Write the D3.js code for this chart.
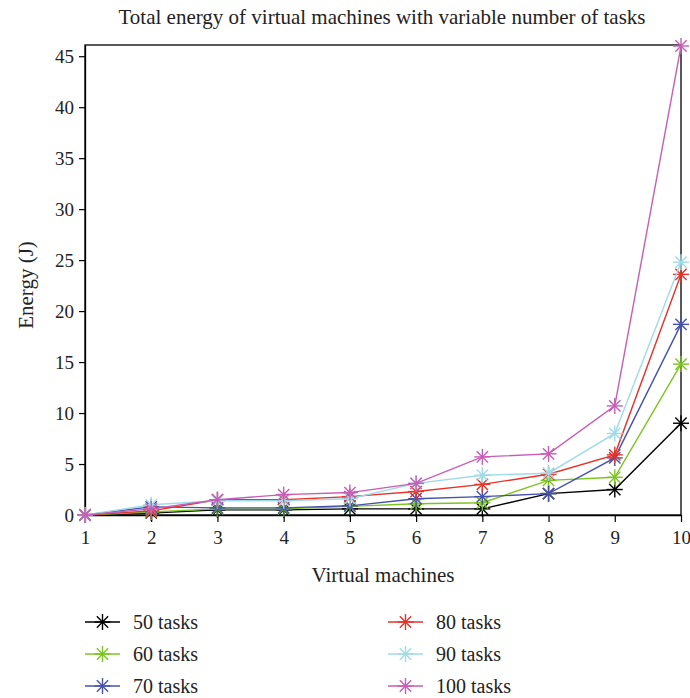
<!DOCTYPE html>
<html><head><meta charset="utf-8">
<script src="https://cdn.jsdelivr.net/npm/d3@7"></script>
<style>body{margin:0;background:#fff}svg{display:block}text{font-family:"Liberation Serif","Times New Roman",serif;fill:#222}</style>
</head><body>
<svg id="c" width="690" height="698"></svg>
<script>
const machines = [1,2,3,4,5,6,7,8,9,10];
const seriesNames = ["50 tasks","60 tasks","70 tasks","80 tasks","90 tasks","100 tasks"];
const seriesColors = ["#000000","#7cc520","#4652ad","#e6332a","#9edbe8","#c75db8"];
const tasks50  = [0, 0.2, 0.5, 0.5, 0.6, 0.6, 0.6, 2.1, 2.5, 9.0];
const tasks60  = [0, 0.3, 0.6, 0.6, 0.85, 1.1, 1.2, 3.4, 3.7, 14.8];
const tasks70  = [0, 0.8, 0.7, 0.7, 0.9, 1.6, 1.8, 2.1, 5.6, 18.7];
const tasks80  = [0, 0.4, 1.5, 1.5, 1.8, 2.3, 3.0, 4.0, 5.9, 23.6];
const tasks90  = [0, 1.0, 1.4, 1.4, 1.6, 3.1, 3.9, 4.1, 8.0, 24.8];
const tasks100 = [0, 0.6, 1.5, 2.0, 2.2, 3.1, 5.7, 6.0, 10.7, 46.0];
const yTicks = [0,5,10,15,20,25,30,35,40,45];
const allSeries = [tasks50,tasks60,tasks70,tasks80,tasks90,tasks100];

const svg = d3.select("#c");
const L=85,R=681,T=45,B=515;
const x = d3.scaleLinear().domain([1,10]).range([L,R]);
const y = d3.scaleLinear().domain([0,46.1]).range([B,T]);

svg.append("rect").attr("x",L).attr("y",T).attr("width",R-L).attr("height",B-T)
  .attr("fill","none").attr("stroke","#000").attr("stroke-width",1.3);

const xa = svg.append("g").attr("transform",`translate(0,${B})`)
  .call(d3.axisBottom(x).tickValues(machines).tickFormat(d3.format("d")).tickSize(7).tickSizeOuter(0));
const ya = svg.append("g").attr("transform",`translate(${L},0)`)
  .call(d3.axisLeft(y).tickValues(yTicks).tickSize(6).tickSizeOuter(0));
[xa,ya].forEach(a=>{a.attr("font-family",null).attr("font-size",null);
  a.select(".domain").attr("stroke","#000").attr("stroke-width",1.3);
  a.selectAll(".tick line").attr("stroke","#000").attr("stroke-width",1.2);
  a.selectAll("text").style("font-size","19px").style("font-family",'"Liberation Serif",serif').attr("fill","#222");});
xa.selectAll("text").attr("dy","1.0em");
ya.selectAll("text").attr("dx","-0.1em");

svg.append("text").attr("x",382).attr("y",24).attr("text-anchor","middle").style("font-size","21px")
  .text("Total energy of virtual machines with variable number of tasks");
svg.append("text").attr("x",383).attr("y",582).attr("text-anchor","middle").style("font-size","21px")
  .text("Virtual machines");
svg.append("text").attr("transform","translate(33,285) rotate(-90)").attr("text-anchor","middle").style("font-size","21px")
  .text("Energy (J)");

function star(g, cx, cy, r, color){
  for(let k=0;k<4;k++){
    const a = k*Math.PI/4;
    g.append("line").attr("x1",cx-r*Math.cos(a)).attr("y1",cy-r*Math.sin(a))
      .attr("x2",cx+r*Math.cos(a)).attr("y2",cy+r*Math.sin(a))
      .attr("stroke",color).attr("stroke-width",1.4);
  }
}
const line = d3.line().x((d,i)=>x(machines[i])).y(d=>y(d));
allSeries.forEach((s,si)=>{
  const g = svg.append("g");
  g.append("path").attr("d",line(s)).attr("fill","none").attr("stroke",seriesColors[si]).attr("stroke-width",1.4);
  s.forEach((v,i)=>star(g,x(machines[i]),y(v),8,seriesColors[si]));
});

seriesNames.forEach((n,i)=>{
  const col = Math.floor(i/3), row = i%3;
  const lx = col===0?85:388, ly = 622+row*32;
  const g = svg.append("g");
  g.append("line").attr("x1",lx).attr("x2",lx+35).attr("y1",ly).attr("y2",ly)
    .attr("stroke",seriesColors[i]).attr("stroke-width",1.4);
  star(g,lx+17.5,ly,8,seriesColors[i]);
  g.append("text").attr("x",lx+48).attr("y",ly+7).style("font-size","20px").text(n);
});
</script>
</body></html>
